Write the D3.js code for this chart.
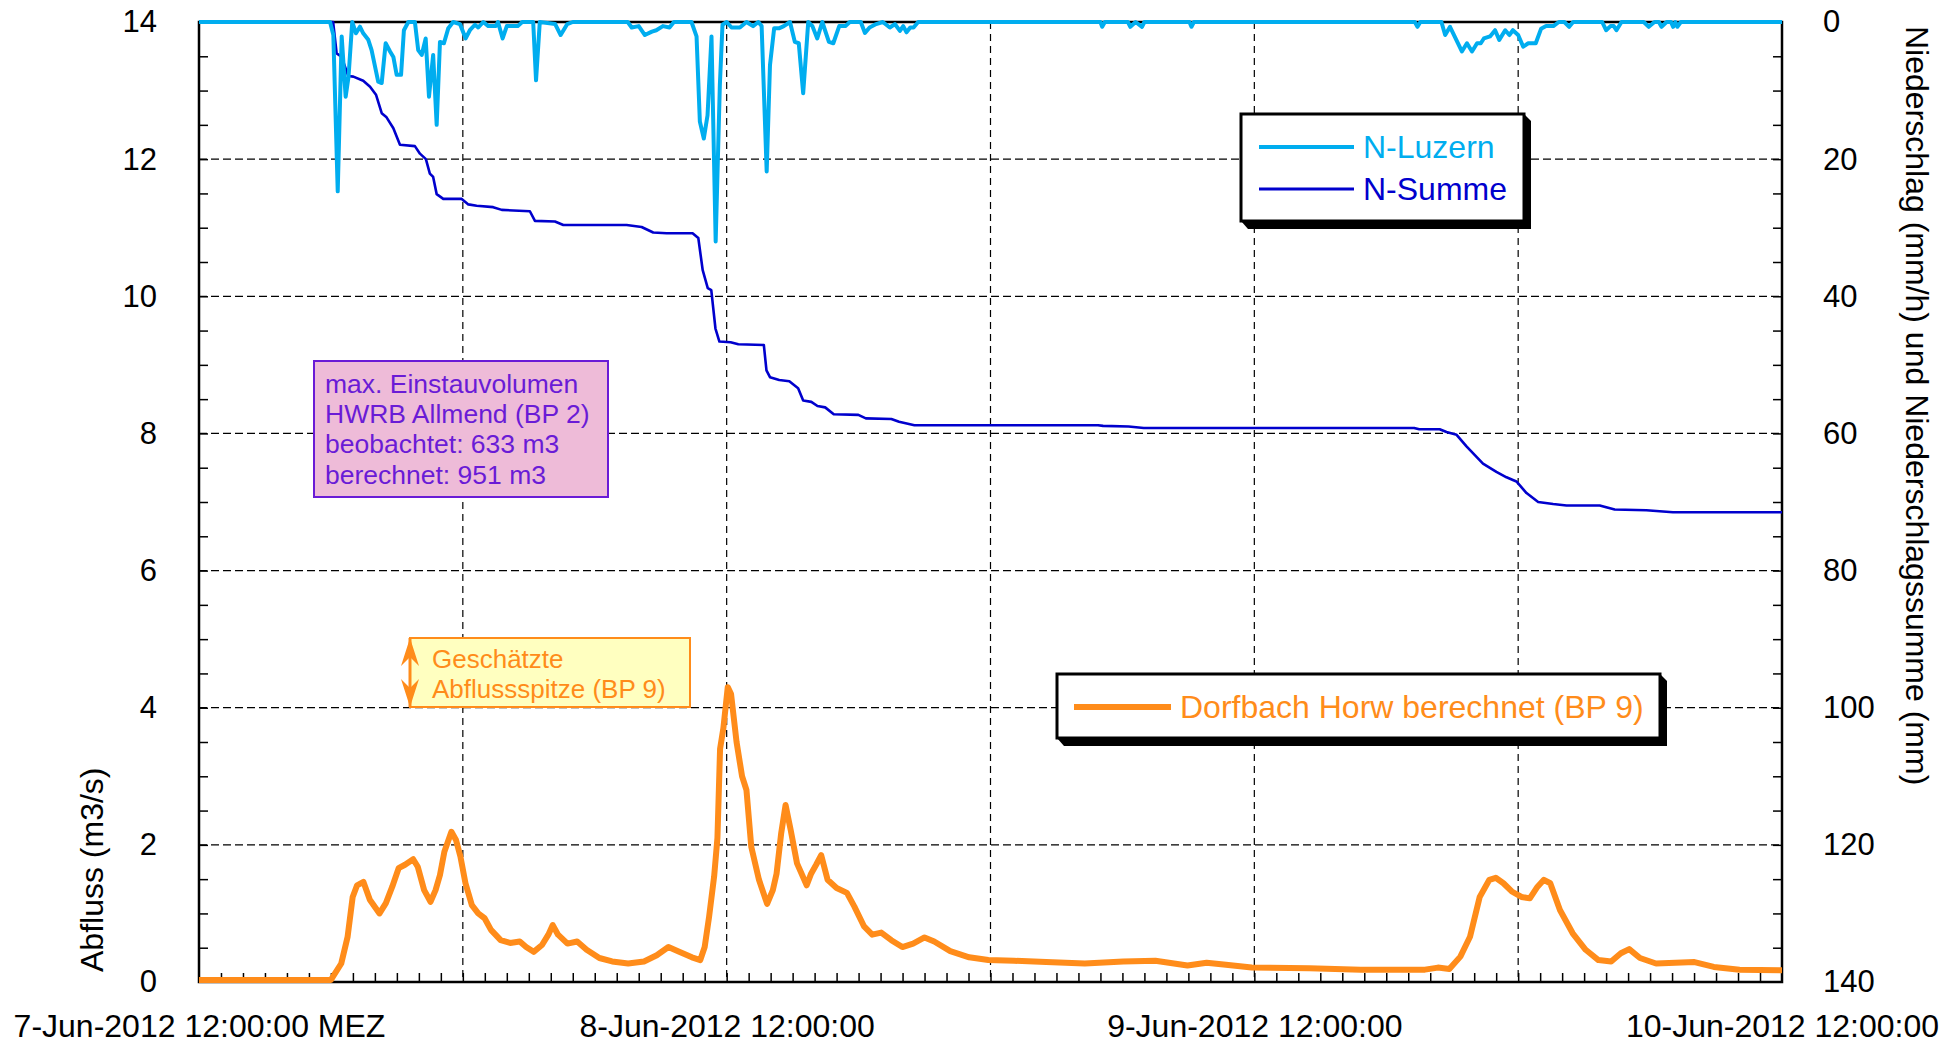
<!DOCTYPE html>
<html>
<head>
<meta charset="utf-8">
<script src="https://cdn.jsdelivr.net/npm/d3@7"></script>
<style>
  body { margin: 0; background: #fff; }
  svg { font-family: "Liberation Sans", Arial, Helvetica, sans-serif; }
</style>
</head>
<body>
<div id="chart"></div>
<script>
// hours after 7-Jun-2012 12:00 MEZ
const xTickHours = [0, 24, 48, 72];
const xTickLabels = ["7-Jun-2012 12:00:00 MEZ", "8-Jun-2012 12:00:00", "9-Jun-2012 12:00:00", "10-Jun-2012 12:00:00"];
const leftTicks = [0, 2, 4, 6, 8, 10, 12, 14];
const rightTicks = [0, 20, 40, 60, 80, 100, 120, 140];

// Dorfbach Horw berechnet (BP 9), [hour, m3/s]
const dorfbach = [
  [0,0.03],[6.0,0.03],[6.47,0.27],[6.76,0.66],[6.99,1.24],[7.19,1.41],[7.48,1.46],[7.77,1.20],[8.21,1.00],[8.50,1.15],
  [8.79,1.39],[9.08,1.66],[9.37,1.71],[9.74,1.79],[9.95,1.68],[10.24,1.34],[10.53,1.17],[10.76,1.34],[10.96,1.56],[11.16,1.90],
  [11.48,2.19],[11.69,2.07],[11.89,1.83],[12.12,1.44],[12.41,1.12],[12.70,1.00],[12.99,0.93],[13.28,0.76],[13.72,0.61],[14.15,0.57],
  [14.59,0.59],[14.88,0.51],[15.22,0.44],[15.60,0.54],[15.89,0.69],[16.09,0.83],[16.33,0.69],[16.76,0.56],[17.20,0.59],[17.63,0.47],
  [18.21,0.35],[18.79,0.30],[19.52,0.27],[20.24,0.30],[20.82,0.39],[21.35,0.51],[21.84,0.44],[22.42,0.36],[22.80,0.32],[23.00,0.51],
  [23.20,0.95],[23.43,1.54],[23.58,2.1],[23.7,3.4],[23.85,3.7],[24.05,4.3],[24.2,4.2],[24.45,3.5],[24.7,3.0],[24.9,2.8],
  [25.12,1.97],[25.47,1.49],[25.84,1.14],[26.1,1.34],[26.27,1.58],[26.48,2.17],[26.68,2.58],[26.91,2.22],[27.2,1.73],[27.64,1.41],
  [27.84,1.58],[28.07,1.71],[28.30,1.85],[28.59,1.49],[29.0,1.37],[29.47,1.30],[29.81,1.10],[30.25,0.81],[30.62,0.69],[31.03,0.72],
  [31.49,0.61],[31.99,0.51],[32.48,0.56],[33.0,0.65],[33.44,0.59],[34.17,0.45],[35.03,0.36],[35.9,0.32],[37.07,0.31],[38.53,0.29],
  [40.29,0.27],[42.04,0.30],[43.5,0.31],[44.96,0.24],[45.83,0.28],[46.71,0.25],[47.88,0.21],[50.5,0.20],[52.84,0.18],[55.76,0.18],
  [56.35,0.21],[56.87,0.19],[57.37,0.37],[57.81,0.66],[58.25,1.24],[58.69,1.49],[58.98,1.52],[59.33,1.44],[59.71,1.32],[60.15,1.24],
  [60.53,1.22],[60.88,1.39],[61.17,1.49],[61.46,1.44],[61.9,1.05],[62.48,0.71],[63.07,0.47],[63.65,0.32],[64.23,0.30],[64.67,0.42],
  [65.05,0.48],[65.54,0.35],[66.27,0.27],[67.15,0.28],[68.02,0.29],[68.9,0.22],[70.07,0.18],[72,0.17]
];

// N-Summe, [hour, mm]
const nSumme = [
  [0,0],[6.1,0],[6.26,4.57],[6.48,5.06],[6.79,7.88],[7.02,7.97],[7.47,8.56],[7.78,9.43],[8.05,10.6],[8.31,13.3],
  [8.53,13.9],[8.84,15.5],[9.14,17.9],[9.82,18.1],[10.05,19.2],[10.32,20.0],[10.5,22.1],[10.65,22.6],[10.81,25.1],[11.11,25.8],
  [11.95,25.8],[12.25,26.6],[12.63,26.8],[13.38,27.0],[13.77,27.4],[15.05,27.6],[15.28,29.0],[16.19,29.1],[16.57,29.6],[19.45,29.6],
  [20.13,29.9],[20.66,30.7],[21.27,30.8],[22.45,30.8],[22.71,31.5],[22.91,36.2],[23.14,38.8],[23.3,39.1],[23.49,44.7],[23.67,46.6],
  [24.18,46.7],[24.53,47.0],[25.69,47.1],[25.81,50.8],[25.97,51.8],[26.39,52.2],[26.85,52.4],[27.25,53.4],[27.48,55.2],[27.85,55.4],
  [28.13,56.0],[28.48,56.2],[28.87,57.2],[29.99,57.3],[30.33,57.8],[31.49,57.9],[31.84,58.3],[32.54,58.8],[40.89,58.8],[41.12,58.9],
  [42.28,59.0],[42.97,59.2],[55.27,59.2],[55.5,59.4],[56.43,59.4],[56.74,59.8],[57.2,60.2],[57.65,61.9],[58.4,64.4],[59.01,65.6],
  [59.47,66.4],[59.92,67.0],[60.38,68.7],[60.91,70.0],[61.59,70.3],[62.2,70.5],[63.71,70.5],[64.39,71.1],[65.83,71.2],[67.04,71.5],[72,71.5]
];

// N-Luzern, [hour, mm/h]
const nLuzern = [
  [0,0],[5.96,0],[6.11,1.9],[6.31,24.7],[6.49,2.1],[6.67,10.9],[6.8,8.0],[6.97,0],[7.14,1.65],[7.32,0.68],
  [7.47,1.65],[7.7,2.6],[7.85,4.1],[8.15,8.7],[8.31,8.9],[8.49,3.1],[8.69,4.3],[8.84,5.1],[8.99,7.7],[9.19,7.7],
  [9.32,1.2],[9.52,0],[9.82,0],[9.97,4.1],[10.13,4.8],[10.31,2.4],[10.46,10.9],[10.65,4.8],[10.81,15.0],[10.96,2.9],
  [11.14,3.1],[11.34,0.9],[11.56,0],[11.87,0.3],[12.13,2.4],[12.32,1.2],[12.55,0.4],[12.7,0.8],[12.93,0],[13.16,0.6],
  [13.5,0.6],[13.6,0],[13.81,2.4],[14.0,0.6],[14.5,0.6],[14.7,0],[15.2,0],[15.33,8.5],[15.5,0],[16.2,0.3],
  [16.45,1.9],[16.75,0.3],[17.0,0],[19.5,0],[19.68,0.8],[20.0,0.6],[20.28,1.9],[20.6,1.4],[20.8,1.2],[21.1,0.6],
  [21.4,0.8],[21.6,0],[22.4,0],[22.63,2.1],[22.78,14.5],[22.96,17.0],[23.13,13.6],[23.31,2.1],[23.5,32.0],[23.69,9.2],
  [23.81,0.4],[24.0,0],[24.22,0.8],[24.6,0.8],[24.9,0],[25.2,0.6],[25.44,0],[25.59,0.6],[25.82,21.8],[25.97,6.3],
  [26.16,0.9],[26.4,0.9],[26.6,0.6],[26.88,0],[27.1,2.9],[27.28,3.1],[27.48,10.4],[27.71,0],[27.9,0.6],[28.12,2.4],
  [28.35,0],[28.65,2.9],[28.85,3.1],[29.12,0.6],[29.4,0.6],[29.6,0],[30.1,0],[30.29,1.6],[30.5,0.8],[30.8,0.3],
  [31.1,0],[31.42,0.8],[31.65,0.3],[31.88,1.3],[32.03,0.6],[32.18,1.5],[32.35,0.8],[32.5,0.8],[32.71,0],[41.0,0],
  [41.08,0.7],[41.2,0],[42.25,0],[42.36,0.7],[42.6,0],[42.89,0.7],[43.0,0],[45.05,0],[45.14,0.7],[45.25,0],
  [55.3,0],[55.42,0.7],[55.55,0],[56.51,0],[56.68,1.9],[56.9,0.7],[57.44,4.3],[57.67,3.1],[57.9,4.3],[58.13,3.1],
  [58.3,3.1],[58.44,2.4],[58.72,2.1],[58.95,1.2],[59.14,2.6],[59.41,1.2],[59.6,1.9],[59.76,1.2],[60.0,1.9],[60.23,3.6],
  [60.46,3.1],[60.8,3.1],[61.04,1.0],[61.27,0.6],[61.6,0.6],[61.85,0],[62.1,0],[62.32,0.7],[62.5,0],[63.82,0],
  [64.0,1.2],[64.2,0.6],[64.35,0.6],[64.47,1.2],[64.7,0],[65.71,0],[65.94,0.7],[66.2,0],[66.4,0],[66.52,0.7],
  [66.75,0],[66.95,0],[67.05,0.7],[67.15,0],[67.24,0.7],[67.4,0],[72,0]
];

const colLuzern = "#00adef", colSumme = "#0000cd", colDorf = "#ff8c1a", colPurple = "#6a1bd6";

const W = 1957, H = 1045;
const margin = { top: 22, right: 175, bottom: 63, left: 199 };
const width = W - margin.left - margin.right;
const height = H - margin.top - margin.bottom;

const svg = d3.select("#chart").append("svg")
  .attr("width", W)
  .attr("height", H);

const g = svg.append("g")
  .attr("transform", "translate(" + margin.left + "," + margin.top + ")");

const x = d3.scaleLinear().domain([0, 72]).range([0, width]);
const yL = d3.scaleLinear().domain([0, 14]).range([height, 0]);
const yR = d3.scaleLinear().domain([0, 140]).range([0, height]);

// grid
g.append("g").selectAll("line")
  .data([12, 24, 36, 48, 60])
  .enter().append("line")
  .attr("x1", d => x(d)).attr("x2", d => x(d))
  .attr("y1", 0).attr("y2", height)
  .attr("stroke", "#000").attr("stroke-width", 1.2)
  .attr("stroke-dasharray", "7,5");

g.append("g").selectAll("line")
  .data(leftTicks.slice(1, -1))
  .enter().append("line")
  .attr("x1", 0).attr("x2", width)
  .attr("y1", d => yL(d)).attr("y2", d => yL(d))
  .attr("stroke", "#000").attr("stroke-width", 1.2)
  .attr("stroke-dasharray", "8,4");

// minor ticks, pointing inward
function noDomain(sel) { sel.select(".domain").remove(); }

g.append("g")
  .attr("transform", "translate(0," + height + ")")
  .call(d3.axisTop(x).tickValues(d3.range(1, 72)).tickSize(9).tickFormat(""))
  .call(noDomain)
  .selectAll("line").attr("stroke-width", 1.5);

g.append("g")
  .call(d3.axisRight(yL).tickValues(d3.range(0.5, 14, 0.5)).tickSize(9).tickFormat(""))
  .call(noDomain)
  .selectAll("line").attr("stroke-width", 1.5);

g.append("g")
  .attr("transform", "translate(" + width + ",0)")
  .call(d3.axisLeft(yR).tickValues(d3.range(5, 140, 5)).tickSize(9).tickFormat(""))
  .call(noDomain)
  .selectAll("line").attr("stroke-width", 1.5);

// tick labels
g.append("g")
  .call(d3.axisLeft(yL).tickValues(leftTicks).tickSize(0).tickPadding(42))
  .call(noDomain)
  .attr("font-size", 31).attr("font-family", null);

g.append("g")
  .attr("transform", "translate(" + width + ",0)")
  .call(d3.axisRight(yR).tickValues(rightTicks).tickSize(0).tickPadding(41))
  .call(noDomain)
  .attr("font-size", 31).attr("font-family", null);

g.append("g")
  .attr("transform", "translate(0," + height + ")")
  .call(d3.axisBottom(x).tickValues(xTickHours).tickFormat((d, i) => xTickLabels[i]).tickSize(0).tickPadding(32))
  .call(noDomain)
  .attr("font-size", 32).attr("font-family", null);

// frame
g.append("rect")
  .attr("width", width).attr("height", height)
  .attr("fill", "none").attr("stroke", "#000").attr("stroke-width", 2.5);

// series
const lineL = d3.line().x(d => x(d[0])).y(d => yL(d[1]));
const lineR = d3.line().x(d => x(d[0])).y(d => yR(d[1]));

g.append("path").datum(dorfbach)
  .attr("d", lineL).attr("fill", "none")
  .attr("stroke", colDorf).attr("stroke-width", 6).attr("stroke-linejoin", "round");

g.append("path").datum(nSumme)
  .attr("d", lineR).attr("fill", "none")
  .attr("stroke", colSumme).attr("stroke-width", 2.6).attr("stroke-linejoin", "round");

g.append("path").datum(nLuzern)
  .attr("d", lineR).attr("fill", "none")
  .attr("stroke", colLuzern).attr("stroke-width", 4).attr("stroke-linejoin", "round");

// axis titles
svg.append("text")
  .attr("transform", "translate(103,972) rotate(-90)")
  .attr("text-anchor", "start")
  .attr("font-size", 32)
  .text("Abfluss (m3/s)");

svg.append("text")
  .attr("transform", "translate(1906,26) rotate(90)")
  .attr("text-anchor", "start")
  .attr("font-size", 32)
  .text("Niederschlag (mm/h) und Niederschlagssumme (mm)");

// legend boxes with drop shadow
function legendBox(l, t, r, b) {
  svg.append("polygon")
    .attr("points", [[r, t], [r + 7, t + 7], [r + 7, b + 8], [l + 7, b + 8], [l, b]].join(" "))
    .attr("fill", "#000");
  svg.append("rect")
    .attr("x", l).attr("y", t).attr("width", r - l).attr("height", b - t)
    .attr("fill", "#fff").attr("stroke", "#000").attr("stroke-width", 3);
}

legendBox(1241, 114, 1524, 221);
const leg1 = [
  { name: "N-Luzern", color: colLuzern, w: 4, y: 147 },
  { name: "N-Summe", color: colSumme, w: 3, y: 189 }
];
leg1.forEach(d => {
  svg.append("line")
    .attr("x1", 1259).attr("x2", 1354).attr("y1", d.y).attr("y2", d.y)
    .attr("stroke", d.color).attr("stroke-width", d.w);
  svg.append("text")
    .attr("x", 1363).attr("y", d.y + 11)
    .attr("font-size", 32).attr("fill", d.color)
    .text(d.name);
});

legendBox(1057, 674, 1660, 738);
svg.append("line")
  .attr("x1", 1074).attr("x2", 1171).attr("y1", 707).attr("y2", 707)
  .attr("stroke", colDorf).attr("stroke-width", 6);
svg.append("text")
  .attr("x", 1180).attr("y", 718)
  .attr("font-size", 32).attr("fill", colDorf)
  .text("Dorfbach Horw berechnet (BP 9)");

// annotation: HWRB Allmend
svg.append("rect")
  .attr("x", 314).attr("y", 361).attr("width", 294).attr("height", 136)
  .attr("fill", "#eebbd8").attr("stroke", colPurple).attr("stroke-width", 2);
const note1 = ["max. Einstauvolumen", "HWRB Allmend (BP 2)", "beobachtet: 633 m3", "berechnet: 951 m3"];
svg.append("g").selectAll("text")
  .data(note1)
  .enter().append("text")
  .attr("x", 325)
  .attr("y", (d, i) => 393 + i * 30.2)
  .attr("font-size", 26.5).attr("fill", colPurple)
  .text(d => d);

// annotation: estimated peak
svg.append("rect")
  .attr("x", 410).attr("y", 638).attr("width", 280).attr("height", 69)
  .attr("fill", "#ffffc0").attr("stroke", colDorf).attr("stroke-width", 2);
const note2 = ["Geschätzte", "Abflussspitze (BP 9)"];
svg.append("g").selectAll("text")
  .data(note2)
  .enter().append("text")
  .attr("x", 432)
  .attr("y", (d, i) => 668 + i * 29.5)
  .attr("font-size", 26).attr("fill", colDorf)
  .text(d => d);
svg.append("line")
  .attr("x1", 410).attr("x2", 410).attr("y1", 638).attr("y2", 707)
  .attr("stroke", colDorf).attr("stroke-width", 3);
svg.append("path")
  .attr("d", "M410,638 L419,666 L410,657 L401,666 Z M410,707 L419,679 L410,688 L401,679 Z")
  .attr("fill", colDorf);
</script>
</body>
</html>
